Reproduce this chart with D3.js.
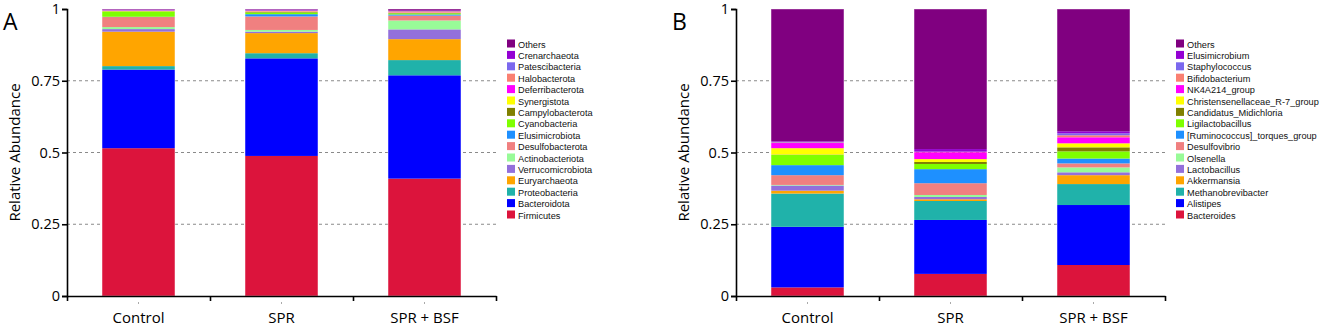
<!DOCTYPE html>
<html>
<head>
<meta charset="utf-8">
<script src="https://cdn.jsdelivr.net/npm/d3@7"></script>
<style>
  body { margin: 0; background: #fff; }
  svg { display: block; }
</style>
</head>
<body>
<div id="chart"></div>
<script>
const groups = ["Control", "SPR", "SPR + BSF"];

// bottom to top of each bar
const phyla = ["Firmicutes", "Bacteroidota", "Proteobacteria", "Euryarchaeota", "Verrucomicrobiota",
  "Actinobacteriota", "Desulfobacterota", "Elusimicrobiota", "Cyanobacteria", "Campylobacterota",
  "Synergistota", "Deferribacterota", "Halobacterota", "Patescibacteria", "Crenarchaeota", "Others"];
const phylumControl = [0.515, 0.274, 0.012, 0.120, 0.009, 0.007, 0.035, 0.001, 0.018, 0.001, 0.001, 0.001, 0.001, 0.001, 0.002, 0.002];
const phylumSPR     = [0.488, 0.340, 0.018, 0.070, 0.005, 0.006, 0.047, 0.008, 0.006, 0.002, 0.002, 0.001, 0.001, 0.001, 0.003, 0.002];
const phylumSPRBSF  = [0.409, 0.360, 0.053, 0.073, 0.034, 0.031, 0.017, 0.004, 0.004, 0.001, 0.001, 0.001, 0.004, 0.001, 0.002, 0.005];

const genera = ["Bacteroides", "Alistipes", "Methanobrevibacter", "Akkermansia", "Lactobacillus",
  "Olsenella", "Desulfovibrio", "[Ruminococcus]_torques_group", "Ligilactobacillus", "Candidatus_Midichloria",
  "Christensenellaceae_R-7_group", "NK4A214_group", "Bifidobacterium", "Staphylococcus", "Elusimicrobium", "Others"];
const genusControl = [0.030, 0.211, 0.116, 0.010, 0.018, 0.002, 0.034, 0.035, 0.036, 0.001, 0.022, 0.018, 0.002, 0.002, 0.002, 0.461];
const genusSPR     = [0.077, 0.188, 0.066, 0.006, 0.008, 0.007, 0.041, 0.049, 0.018, 0.007, 0.010, 0.024, 0.001, 0.001, 0.009, 0.488];
const genusSPRBSF  = [0.108, 0.209, 0.073, 0.031, 0.010, 0.017, 0.014, 0.017, 0.025, 0.014, 0.014, 0.021, 0.007, 0.007, 0.007, 0.426];

const palette = ["#DC143C", "#0000FF", "#20B2AA", "#FFA500", "#9370DB", "#98FB98", "#F08080", "#1E90FF",
  "#7FFF00", "#808000", "#FFFF00", "#FF00FF", "#FA8072", "#7B68EE", "#9400D3", "#800080"];

const yTicks = [0, 0.25, 0.5, 0.75, 1];

const svg = d3.select("#chart").append("svg")
  .attr("width", 1325)
  .attr("height", 330);

function panel(opt) {
  const g = svg.append("g");
  const keys = opt.keys;
  const rows = groups.map((grp, i) => {
    const r = {group: grp};
    keys.forEach((k, j) => { r[k] = opt.values[i][j]; });
    return r;
  });
  const stacked = d3.stack().keys(keys)(rows);
  const color = d3.scaleOrdinal().domain(keys).range(palette);

  const x = d3.scaleBand().domain(groups).range([opt.left, opt.right]).padding(0);
  const barW = x.bandwidth() * 0.51;
  const y = d3.scaleLinear().domain([0, 1]).range([296, 9]);

  // dashed gridlines
  g.selectAll("line.grid")
    .data([0.25, 0.5, 0.75])
    .enter().append("line")
    .attr("class", "grid")
    .attr("x1", opt.left).attr("x2", opt.right)
    .attr("y1", d => y(d)).attr("y2", d => y(d))
    .attr("stroke", "#8a8a8a")
    .attr("stroke-width", 1)
    .attr("stroke-dasharray", "3,3");

  // bars
  g.selectAll("g.layer")
    .data(stacked)
    .enter().append("g")
    .attr("class", "layer")
    .attr("fill", d => color(d.key))
    .selectAll("rect")
    .data(d => d)
    .enter().append("rect")
    .attr("x", d => x(d.data.group) + (x.bandwidth() - barW) / 2)
    .attr("width", barW)
    .attr("y", d => y(d[1]))
    .attr("height", d => Math.max(0, y(d[0]) - y(d[1])));

  // light edge round each bar
  g.selectAll("rect.edge")
    .data(groups)
    .enter().append("rect")
    .attr("class", "edge")
    .attr("x", d => x(d) + (x.bandwidth() - barW) / 2)
    .attr("width", barW)
    .attr("y", y(1))
    .attr("height", y(0) - y(1))
    .attr("fill", "none")
    .attr("stroke", "#fff")
    .attr("stroke-opacity", 0.4)
    .attr("stroke-width", 1);

  // y axis
  const yAxis = g.append("g")
    .attr("transform", `translate(${opt.left},0)`)
    .call(d3.axisLeft(y).tickValues(yTicks).tickFormat(d => d).tickSizeInner(5).tickSizeOuter(5));
  yAxis.select(".domain").attr("stroke-width", 1.6);
  yAxis.selectAll(".tick line").attr("stroke-width", 1.6);
  yAxis.selectAll(".tick text")
    .attr("font-family", "'Open Sans', sans-serif")
    .attr("font-size", 14.5)
    .attr("fill", "#000")
    .attr("x", -7);

  // x axis with ticks at band edges
  const xEdge = d3.scaleLinear().domain([0, groups.length]).range([opt.left, opt.right]);
  const xAxis = g.append("g")
    .attr("transform", "translate(0,296)")
    .call(d3.axisBottom(xEdge).tickValues(d3.range(groups.length + 1)).tickFormat("").tickSizeInner(5).tickSizeOuter(0));
  xAxis.select(".domain").attr("stroke-width", 1.6);
  xAxis.selectAll(".tick line").attr("stroke-width", 1.6);

  g.selectAll("line.mid")
    .data(groups)
    .enter().append("line")
    .attr("x1", d => x(d) + x.bandwidth() / 2).attr("x2", d => x(d) + x.bandwidth() / 2)
    .attr("y1", 302).attr("y2", 304)
    .attr("stroke", "#aaa");

  g.selectAll("text.cat")
    .data(groups)
    .enter().append("text")
    .attr("x", d => x(d) + x.bandwidth() / 2)
    .attr("y", 323)
    .attr("text-anchor", "middle")
    .attr("font-family", "'Open Sans', sans-serif")
    .attr("font-size", 15)
    .text(d => d);

  // y title
  g.append("text")
    .attr("transform", `translate(${opt.left - 47},152.5) rotate(-90)`)
    .attr("text-anchor", "middle")
    .attr("font-family", "'Open Sans', sans-serif")
    .attr("font-size", 15)
    .text("Relative Abundance");

  // panel letter
  g.append("text")
    .attr("x", opt.left - 64)
    .attr("y", 30)
    .attr("font-family", "'Open Sans', sans-serif")
    .attr("font-size", 23)
    .text(opt.letter);

  // legend, top row = last key
  const legend = g.append("g")
    .attr("transform", `translate(${opt.legendX},0)`);
  const items = legend.selectAll("g.item")
    .data(keys.slice().reverse())
    .enter().append("g")
    .attr("class", "item")
    .attr("transform", (d, i) => `translate(0,${44 + i * 11.4})`);
  items.append("rect")
    .attr("x", 0).attr("y", -4.5)
    .attr("width", 8).attr("height", 8)
    .attr("fill", d => color(d));
  items.append("text")
    .attr("x", 11)
    .attr("y", 3.5)
    .attr("font-family", "'Liberation Sans', Arial, sans-serif")
    .attr("font-size", 9.2)
    .attr("fill", "#111")
    .text(d => d);
}

panel({letter: "A", keys: phyla, values: [phylumControl, phylumSPR, phylumSPRBSF],
  left: 67, right: 496, legendX: 507});
panel({letter: "B", keys: genera, values: [genusControl, genusSPR, genusSPRBSF],
  left: 736, right: 1165, legendX: 1176});
</script>
</body>
</html>
